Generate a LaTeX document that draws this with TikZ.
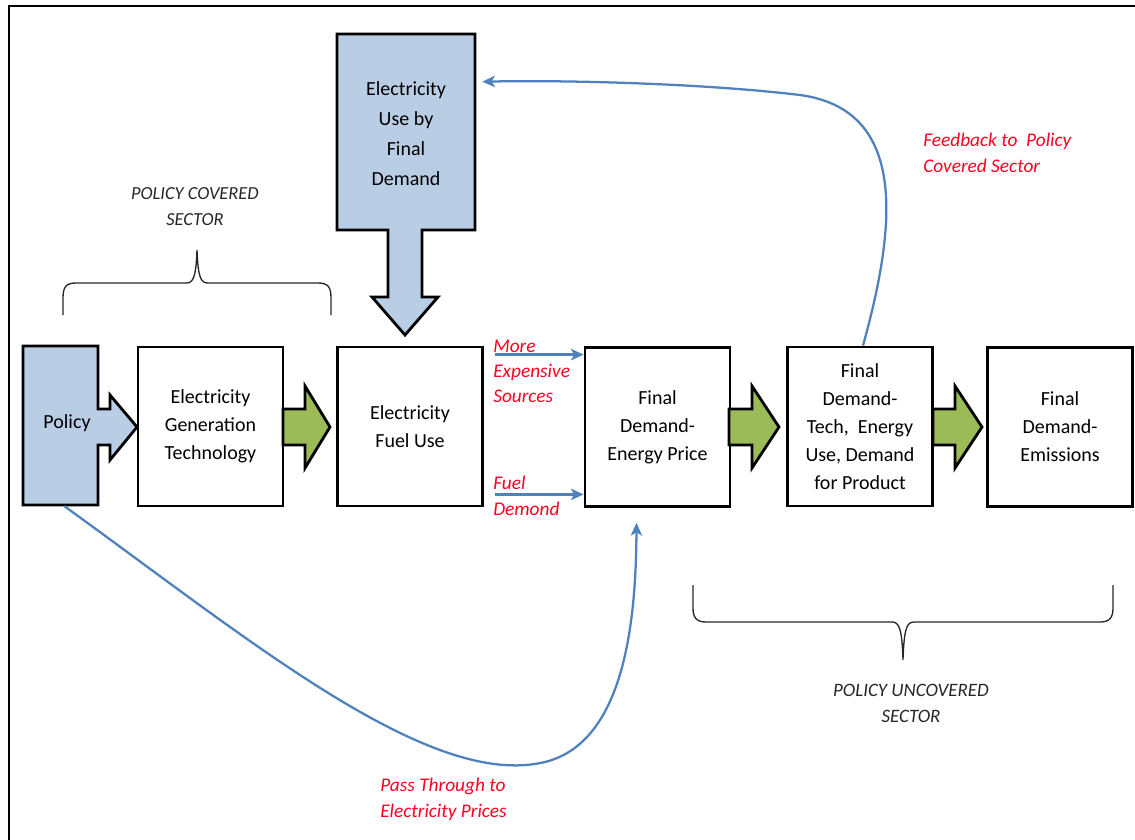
\documentclass[tikz,border=0pt]{standalone}
\usepackage{fontspec}
\setmainfont{Carlito}
\usetikzlibrary{arrows.meta,calc}
\definecolor{boxblue}{HTML}{B9CDE5}
\definecolor{arrgreen}{HTML}{9BBB59}
\definecolor{linkblue}{HTML}{4F81BD}
\definecolor{labred}{HTML}{FF0022}
\begin{document}
\begin{tikzpicture}[x=0.75pt,y=-0.75pt,
  stagebox/.style={draw=black, line width=2.1pt, fill=white, minimum width=108.75pt, minimum height=119.25pt,
     align=center, inner sep=0pt, font=\fontsize{15}{21}\selectfont},
  bluearrow/.style={draw=black, line width=2.1pt, fill=boxblue, line join=miter},
  greenarrow/.style={draw=black, line width=2.1pt, fill=arrgreen, line join=miter},
  link/.style={draw=linkblue, line width=1.7pt, -{Stealth[length=9.5pt,width=8.5pt,inset=2.5pt]}},
  redlabel/.style={text=labred, align=left, inner sep=0pt, anchor=west, font=\fontsize{14.5}{19.5}\selectfont\itshape},
  sectorlabel/.style={text=black!85, align=center, inner sep=0pt, font=\fontsize{14.2}{19.5}\selectfont\itshape},
  bracelines/.style={draw=black!85, line width=1pt}]
\useasboundingbox (0,0) rectangle (1135,839);
% frame
\draw[line width=2.2pt] (9,845) -- (9,6) -- (1140,6);

% Policy shape
\node[draw=none, minimum width=56.25pt, minimum height=119.25pt, inner sep=0pt] (policy) at (60.5,425.5) {};
\path[bluearrow] (23,346) -- (98,346) -- (98,409) -- (110,409) -- (110,395) -- (137,427) -- (110,460) -- (110,445) -- (98,445) -- (98,505) -- (23,505) -- cycle;
\node[font=\fontsize{15}{21}\selectfont, inner sep=0pt] (policytxt) at (67,423) {Policy};

% Electricity use by final demand shape
\node[draw=none, minimum width=103.5pt, minimum height=147pt, inner sep=0pt] (usebox) at (406,132) {};
\path[bluearrow] (337,34) -- (475,34) -- (475,230) -- (422,230) -- (422,297) -- (438,297) -- (405,335) -- (372,297) -- (388,297) -- (388,230) -- (337,230) -- cycle;
\node[align=center, inner sep=0pt, font=\fontsize{15}{22.5}\selectfont] (usetxt) at (406,134) {Electricity\\Use by\\Final\\Demand};

% stage boxes
\node[stagebox] (gen) at (210.5,426.5) {Electricity\\Generation\\Technology};
\node[stagebox] (fuel) at (410,426.5) {Electricity\\Fuel Use};
\node[stagebox] (price) at (657.5,427) {Final\\Demand-\\Energy Price};
\node[stagebox] (tech) at (860,426.5) {Final\\Demand-\\Tech,\ \ Energy\\Use, Demand\\for Product};
\node[stagebox] (emis) at (1060,427) {Final\\Demand-\\Emissions};

% green block arrows
\path[greenarrow] (283,409) -- (305,409) -- (305,386) -- (330,427) -- (305,468) -- (305,445) -- (283,445) -- cycle;
\path[greenarrow] (729,409) -- (752,409) -- (752,386) -- (779,427) -- (752,468) -- (752,445) -- (729,445) -- cycle;
\path[greenarrow] (933,409) -- (955,409) -- (955,386) -- (982,427) -- (955,468) -- (955,445) -- (933,445) -- cycle;

% small blue arrows
\coordinate (mfrom) at ($(fuel.north east)+(11,9)$);
\coordinate (ffrom) at ($(fuel.south east)+(11,-13)$);
\draw[link] (mfrom) -- (mfrom -| price.west);
\draw[link] (ffrom) -- (ffrom -| price.west);
\node[redlabel, font=\fontsize{14.5}{18.75}\selectfont\itshape] (lmore) at (493,371) {More\\Expensive\\Sources};
\node[redlabel, font=\fontsize{14.5}{19.5}\selectfont\itshape] (lfuel) at (493,496) {Fuel\\Demond};

% pass-through curve
\coordinate (pstart) at ($(policy.south)+(4,1)$);
\coordinate (pend) at ($(price.south)+(-21,15)$);
\draw[link] (pstart) .. controls (250,640) and (430,790) .. (545,762) .. controls (625,742) and (636,620) .. (pend);
\node[redlabel] (lpass) at (380,799) {Pass Through to\\Electricity Prices};

% feedback curve
\coordinate (fstart) at ($(tech.north)+(3,0)$);
\coordinate (fend) at ($(usebox.north east)+(7,48)$);
\draw[link] (fstart) .. controls (895,230) and (910,110) .. (800,95) .. controls (700,83) and (560,80) .. (fend);
\node[redlabel, font=\fontsize{14.5}{20}\selectfont\itshape] (lfeed) at (923,153) {Feedback to\ \ Policy\\Covered Sector};

% braces
\draw[bracelines] (63,315) -- (63,298) .. controls (63,287) and (66,283) .. (76,283) -- (186,283) .. controls (193,283) and (196,278) .. (197,250) .. controls (198,278) and (201,283) .. (208,283) -- (318,283) .. controls (328,283) and (331,287) .. (331,298) -- (331,315);
\node[sectorlabel, font=\fontsize{13.8}{19.5}\selectfont\itshape] (lcov) at (195,207) {POLICY COVERED\\SECTOR};
\draw[bracelines] (693,585) -- (693,608) .. controls (693,617) and (696,622) .. (706,622) -- (892,622) .. controls (899,622) and (902,628) .. (903,660) .. controls (904,628) and (907,622) .. (914,622) -- (1100,622) .. controls (1110,622) and (1113,617) .. (1113,608) -- (1113,585);
\node[sectorlabel] (lunc) at (911,703) {POLICY UNCOVERED\\SECTOR};
\end{tikzpicture}
\end{document}
